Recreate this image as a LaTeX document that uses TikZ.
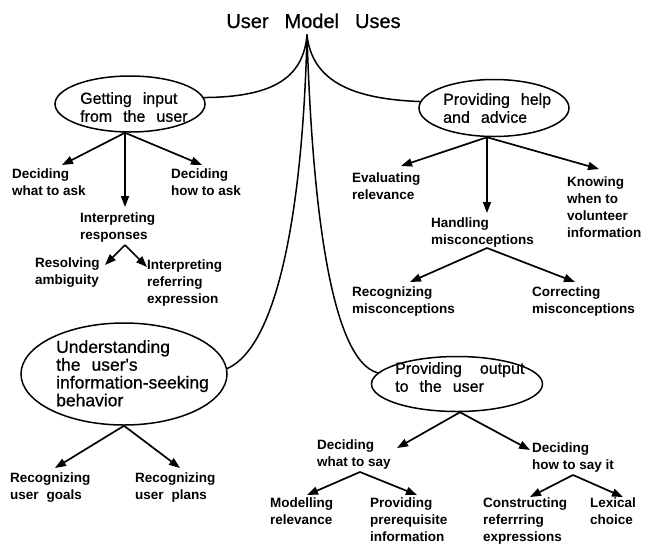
\documentclass[tikz,border=0pt]{standalone}
\usepackage{fontspec}
\setmainfont{Liberation Sans}
\newfontfamily\medfont{Liberation Sans}[FakeBold=0.7]
\usetikzlibrary{arrows.meta,shapes.geometric}
\newcommand{\wsp}{\hspace{11pt}}
\begin{document}
\begin{tikzpicture}[x=1pt,y=-1pt,
  leaf/.style={anchor=north west, inner sep=0pt, align=left, font=\bfseries\fontsize{13.5}{17}\selectfont},
  etext/.style={anchor=north west, inner sep=0pt, align=left, font=\medfont\fontsize{16}{18}\selectfont},
  oval/.style={draw, ellipse, line width=1.5pt, inner sep=0pt},
  arr/.style={-{Triangle[length=11pt,width=8pt]}, line width=1.7pt},
  link/.style={line width=1.5pt, line cap=round}]
\fill[white] (0,0) rectangle (645,550);
\useasboundingbox (0,0) rectangle (645,550);

% title
\node[font=\medfont\fontsize{20}{24}\selectfont, anchor=base, inner sep=0pt] (title) at (313.5,28) {User\hspace{16pt}Model\hspace{16pt}Uses};
\coordinate (apex) at (307,35);

% ovals
\node[oval, minimum width=150pt, minimum height=56pt] (g) at (130,104) {};
\node[etext] (gt) at (80,92) {Getting\wsp input\\from\wsp the\wsp user};
\node[oval, minimum width=150pt, minimum height=57pt] (p) at (494,108) {};
\node[etext] (pt) at (443,93) {Providing\wsp help\\and\wsp advice};
\node[oval, minimum width=206pt, minimum height=102pt] (u) at (124,374) {};
\node[etext, font=\medfont\fontsize{17.5}{17.8}\selectfont] (ut) at (56,340) {Understanding\\the\wsp user's\\information-seeking\\behavior};
\node[oval, minimum width=171pt, minimum height=55pt] (o) at (457,384) {};
\node[etext] (ot) at (395,362) {Providing\hspace{18pt}output\\to\wsp the\wsp user};

% leaves
\node[leaf] (dwa) at (12,169) {Deciding\\what to ask};
\node[leaf] (dha) at (171,169) {Deciding\\how to ask};
\node[leaf] (ir) at (80,213) {Interpreting\\responses};
\node[leaf] (ra) at (35,258) {Resolving\\ambiguity};
\node[leaf] (ire) at (147,260) {Interpreting\\referring\\expression};
\node[leaf] (er) at (352,173) {Evaluating\\relevance};
\node[leaf] (hm) at (431,218) {Handling\\misconceptions};
\node[leaf] (kw) at (567,177) {Knowing\\when to\\volunteer\\information};
\node[leaf] (rm) at (352,287) {Recognizing\\misconceptions};
\node[leaf] (cm) at (532,287) {Correcting\\misconceptions};
\node[leaf] (rg) at (10,473) {Recognizing\\user\hspace{8pt}goals};
\node[leaf] (rp) at (135,473) {Recognizing\\user\hspace{8pt}plans};
\node[leaf] (dws) at (317,440) {Deciding\\what to say};
\node[leaf] (dhs) at (532,443) {Deciding\\how to say it};
\node[leaf] (mr) at (270,498) {Modelling\\relevance};
\node[leaf] (pp) at (370,498) {Providing\\prerequisite\\information};
\node[leaf] (cre) at (483,498) {Constructing\\referrring\\expressions};
\node[leaf] (lc) at (590,498) {Lexical\\choice};

% main curves
\draw[link] (apex) .. controls (303,80) and (270,97) .. (g.5);
\draw[link] (apex) .. controls (312,80) and (350,99) .. (p.175);
\draw[link] (apex) .. controls (303,200) and (280,345) .. (u.3);
\draw[link] (apex) .. controls (312,200) and (330,360) .. (o.172);

% arrows: getting input
\draw[arr] ([xshift=-5pt]g.south) -- ([shift={(50,-4)}]dwa.north west);
\draw[arr] ([xshift=-5pt]g.south) -- ([shift={(31,-4)}]dha.north west);
\draw[arr] ([xshift=-5pt]g.south) -- ([shift={(45,-6)}]ir.north west);
\draw[arr] ([shift={(45,32)}]ir.north west) -- ([shift={(70,7)}]ra.north west);
\draw[arr] ([shift={(45,32)}]ir.north west) -- ([shift={(0,7)}]ire.north west);

% arrows: help
\draw[arr] ([xshift=-7pt]p.south) -- ([shift={(49,-7)}]er.north west);
\draw[arr] ([xshift=-7pt]p.south) -- ([shift={(56,-5)}]hm.north west);
\draw[arr] ([xshift=-7pt]p.south) -- ([shift={(32,-8)}]kw.north west);
\draw[arr] ([shift={(56,30)}]hm.north west) -- ([shift={(58,-5)}]rm.north west);
\draw[arr] ([shift={(56,30)}]hm.north west) -- ([shift={(43,-5)}]cm.north west);

% arrows: understanding
\draw[arr] (u.south) -- ([shift={(45,-5)}]rg.north west);
\draw[arr] (u.south) -- ([shift={(45,-5)}]rp.north west);

% arrows: output
\draw[arr] ([xshift=3pt]o.south) -- ([shift={(80,8)}]dws.north west);
\draw[arr] ([xshift=3pt]o.south) -- ([shift={(-2,7)}]dhs.north west);
\draw[arr] ([shift={(43,32)}]dws.north west) -- ([shift={(37,-3)}]mr.north west);
\draw[arr] ([shift={(43,32)}]dws.north west) -- ([shift={(47,-3)}]pp.north west);
\draw[arr] ([shift={(41,32)}]dhs.north west) -- ([shift={(47,-1)}]cre.north west);
\draw[arr] ([shift={(41,32)}]dhs.north west) -- ([shift={(33,-1)}]lc.north west);
\end{tikzpicture}
\end{document}
